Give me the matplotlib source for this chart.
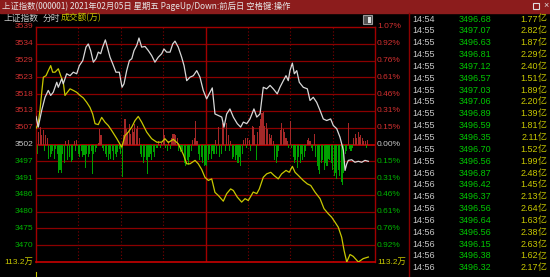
import matplotlib
matplotlib.use("Agg")
import matplotlib.pyplot as plt
from matplotlib.patches import Rectangle
from matplotlib.lines import Line2D
from matplotlib import transforms

plt.rcParams['font.family'] = ['Liberation Sans', 'Noto Sans CJK SC', 'DejaVu Sans']

PRE_CLOSE = 3501.86     # previous close, the zero line
STEP = 5.35             # one grid row (~0.153%)

left_labels = ["3539", "3534", "3529", "3523", "3518", "3513", "3507", "3502",
               "3497", "3491", "3486", "3480", "3475", "3470", "113.2万"]
right_labels = ["1.07%", "0.92%", "0.76%", "0.61%", "0.46%", "0.31%", "0.15%", "0.00%",
                "0.15%", "0.31%", "0.46%", "0.61%", "0.76%", "0.92%", "113.2万"]

# weighted index (white), minute of session vs points
white_min = [0, 1.6, 4, 6.4, 8.7, 10.4, 12.2, 14.7, 15.8, 18.2, 19.3, 21.7, 24.1, 26.4, 28.8,
             30.7, 33.1, 35.4, 37, 38.7, 40.6, 42.5, 44.1, 45.8, 47.2, 49.1, 50.5, 52.4, 54.3,
             56.6, 59, 60.9, 62.3, 64.2, 66.1, 67.8, 69.4, 71.3, 72.9, 74.8, 77.2, 79.5, 81.9,
             84.2, 86.6, 89, 90.6, 92.5, 94.9, 96.8, 98.4, 100.7, 103.1, 104.8, 106.7, 109,
             111.4, 113.8, 116.1, 118.4, 120.8, 123.2, 124.8, 126.7, 129.1, 131.5, 133.1, 135,
             137.3, 139.7, 142.5, 144.9, 146.8, 149.2, 151.5, 154.3, 156.3, 158.6, 160.9, 163.3,
             165.7, 168, 170.8, 172.7, 175.1, 177, 178.6, 179.8, 181.5, 182.9, 184.6, 186.4,
             189.2, 192.1, 194, 196.3, 198.7, 201.1, 203.4, 205.8, 208.6, 210.5, 212.9, 215.2,
             217.6, 218.8, 220, 221.1, 223.5, 225.8, 228.2, 230.6, 232.9, 235.3]
white_px = [3510.8, 3507.4, 3512.7, 3516.9, 3519.1, 3517.5, 3518.5, 3521.7, 3520.1, 3522.8,
            3521.2, 3524.4, 3523.8, 3524.9, 3524.4, 3527.0, 3528.6, 3532.9, 3533.9, 3531.8,
            3528.1, 3529.2, 3531.3, 3530.8, 3532.9, 3535.2, 3532.9, 3529.7, 3527.6, 3524.9,
            3524.9, 3520.1, 3521.2, 3525.4, 3528.6, 3529.2, 3531.8, 3533.4, 3535.8, 3532.9,
            3533.1, 3531.8, 3530.2, 3528.1, 3529.7, 3530.8, 3532.3, 3531.3, 3531.3, 3533.9,
            3534.8, 3532.9, 3529.7, 3527.0, 3522.2, 3523.3, 3523.8, 3525.4, 3523.3, 3519.1,
            3516.4, 3518.5, 3519.9, 3511.6, 3511.1, 3510.6, 3507.4, 3511.6, 3513.2, 3510.6,
            3508.5, 3507.4, 3509.0, 3508.5, 3510.0, 3513.2, 3510.6, 3511.6, 3520.1, 3519.6,
            3520.7, 3519.6, 3518.0, 3520.1, 3522.2, 3523.8, 3522.2, 3525.4, 3527.8, 3524.4,
            3525.4, 3521.7, 3520.1, 3519.6, 3515.9, 3516.9, 3515.3, 3512.7, 3510.0, 3509.5,
            3510.0, 3507.9, 3506.9, 3504.2, 3500.0, 3493.6, 3495.7, 3496.8, 3497.0, 3496.2,
            3496.5, 3496.2, 3496.8, 3496.5]

# leading indicator (yellow)
yellow_min = [0, 1.4, 2.8, 4.2, 5.2, 7.1, 8.7, 10.4, 11.8, 13.5, 15.8, 17.5, 19.3, 20.5, 22.2,
              24.1, 26.4, 28.8, 31.2, 33.5, 35.9, 38.2, 40.1, 41.8, 44.1, 46.5, 48.8, 51.2,
              53.6, 57.1, 60.7, 63, 65.3, 67.8, 70.1, 72.4, 74.8, 78.4, 81.9, 85.5, 89, 91.3,
              93.7, 97.2, 100.7, 104.3, 106.7, 109, 112.6, 114.9, 117.3, 119.6, 122, 124.4,
              126.7, 129.1, 132.6, 135, 137.8, 139.7, 142.5, 145.6, 148, 150.3, 153.8, 156.3,
              158.1, 160.9, 163.3, 166.2, 168.5, 171.5, 173.9, 177, 179.3, 181.5, 183.4, 185.7,
              189.2, 192.1, 194.5, 197.5, 201.1, 203.9, 206.9, 209.3, 211.7, 214, 216.4, 218.1,
              220, 222.3, 224.6, 228.2, 231.7, 235.3]
yellow_px = [3507.0, 3508.2, 3512.7, 3519.1, 3523.3, 3523.8, 3525.4, 3527.0, 3524.9, 3524.9,
             3526.0, 3523.8, 3521.7, 3517.5, 3518.5, 3519.6, 3519.1, 3518.5, 3517.5, 3516.7,
             3515.3, 3513.7, 3511.6, 3508.5, 3508.2, 3510.5, 3509.0, 3507.9, 3506.3, 3503.8,
             3501.0, 3504.7, 3505.8, 3507.4, 3509.5, 3510.8, 3509.0, 3505.8, 3503.7, 3502.6,
             3502.6, 3503.7, 3502.5, 3503.5, 3502.1, 3498.7, 3495.7, 3495.7, 3496.8, 3495.7,
             3493.9, 3491.4, 3490.4, 3490.9, 3486.6, 3485.6, 3483.8, 3486.2, 3487.7, 3487.2,
             3485.1, 3483.5, 3484.6, 3484.0, 3486.7, 3486.2, 3487.7, 3491.4, 3492.5, 3493.0,
             3492.0, 3490.9, 3492.5, 3493.6, 3493.0, 3494.9, 3493.0, 3492.0, 3490.4, 3489.3,
             3488.8, 3486.7, 3484.6, 3481.4, 3479.8, 3478.7, 3477.1, 3475.5, 3472.3, 3468.1,
             3464.4, 3466.8, 3466.2, 3464.4, 3465.5, 3466.0]

# red/green strength bars, points off the zero line, one per minute
force = [-5, -3, 4, 5.5, 3, 4.5, -2, 3, 2, -4.5,
         -4, -3, -2, -4.5, -1.5, -3, -9, -8, -9, -3,
         -6, 1, -5, 1.5, -4, -5.5, -5, 1, -2, 1.5,
         -3, -4, -2, -4, -3.5, -7.5, -3, -4, -3, -2,
         -9.5, -3, -2.5, -1, 0.5, 5, 3, -1, -2, -3,
         -4, -5, -3, -4.5, -2, -5, -3, -4, -2.5, -1.5,
         -3, -10.5, 3, 8, 5, 4, 6.5, 3.5, 5, 4,
         6.5, 5, 6, 2, -3, -4, -6, -4, -5, -9.5,
         -4, -3, -5, -2.5, -4, -1, -1, 1, -1, 0.5,
         5, 3, -1, -2, 1, -1.5, 2, 3.5, 3.5, 3,
         2, -2, -2.5, -1.5, -2, -6, -7, -5, -6.5, -4,
         -2, 1.5, 2, 7.5, 1, -3, -5, -4, -6, -7,
         -6.5, -7, -5, -3, -4.5, -2, -3, 1.5, -3, 5.5,
         -4, -3, 7, 6, -2, 7, 3, -2, 1, -4.5,
         -4, -5, -3.5, -6, -4, -7, -3, 1.5, 2, -1,
         2, 1.5, -2, 6, 5.5, 3, -5, 4, 6, 8,
         10, 10.5, 6, 7, 5, 3.5, 2, 3, 1, -5,
         -6, -4, -2, 4.5, 7, 5, 4, 2, 1, -1,
         7.5, -1, -4, -6, -5, -7.5, -4, -6, -3, -5,
         -4, -2, 1.5, 2, 1, -1, -2, 3.5, -4, -7,
         -8, -9.5, -6, -5, -8, -6, -7, -4.5, -5, -6,
         -8, -10, -9, -11, -8, -10, -12, -13, -9, -3,
         -2, 7, -1.5, -2, -1, 2, 3.5, 2, 4, 2.5,
         3, 2, 1, 1, -1, 1.5]

# tick list on the right
tick_time = ["14:54"] + ["14:55"] * 12 + ["14:56"] * 9
tick_price = ["3496.68", "3497.07", "3496.63", "3496.81", "3497.12", "3496.57", "3497.03",
              "3497.06", "3496.89", "3496.59", "3496.35", "3496.70", "3496.56", "3496.87",
              "3496.42", "3496.37", "3496.56", "3496.64", "3496.56", "3496.15", "3496.38",
              "3496.32"]
tick_amount = ["1.77", "2.82", "1.87", "2.29", "2.40", "1.51", "1.89", "2.20", "1.39", "1.81",
               "2.11", "1.52", "1.99", "2.48", "1.45", "2.13", "2.64", "1.63", "2.38", "2.63",
               "1.62", "2.17"]

RED_TXT = "#d23030"
GREEN_TXT = "#00b400"
GRAY_TXT = "#c8c8c8"
YEL_TXT = "#c8c800"
GRID = "#8a0000"
CJK = ["Noto Sans CJK SC", "DejaVu Sans"]

W, H = 550, 277
fig = plt.figure(figsize=(5.5, 2.77), dpi=100, facecolor="black")


def fx(x):
    return x / W


def fy(y):
    return 1 - y / H


# title bar
fig.patches.append(Rectangle((0, fy(12.5)), 1, 12.5 / H, transform=fig.transFigure,
                             color="#8c1c1c", zorder=0))
fig.text(fx(2), fy(6.5), "上证指数(000001) 2021年02月05日 星期五 PageUp/Down:前后日 空格键:操作",
         color="#e6e6e6", fontsize=6.0, va="center", ha="left", family=CJK)
fig.patches.append(Rectangle((fx(533), fy(8.5)), 6 / W, 6 / H, transform=fig.transFigure,
                             fill=False, ec="#e0e0e0", lw=0.8))
fig.text(fx(543), fy(6), "×", color="#e0e0e0", fontsize=6.5, va="center", ha="left")

# header row
fig.text(fx(3), fy(18), "上证指数", color=GRAY_TXT, fontsize=6.3, va="center", family=CJK)
fig.text(fx(43), fy(18), "分时", color=GRAY_TXT, fontsize=6.3, va="center", family=CJK)
fig.text(fx(61), fy(18), "成交额(万)", color=YEL_TXT, fontsize=6.3, va="center", family=CJK)
fig.patches.append(Rectangle((fx(363), fy(24)), 9 / W, 9 / H, transform=fig.transFigure,
                             fc="#505050", ec="#9a9a9a", lw=0.8))
fig.patches.append(Rectangle((fx(368), fy(22.5)), 2.5 / W, 6 / H, transform=fig.transFigure,
                             fc="#e0e0e0", ec="none"))

# main intraday panel
ax = fig.add_axes([fx(36), fy(262), (375 - 36) / W, (262 - 27) / H], facecolor="black")
ax.set_xlim(0, 240)
ax.set_ylim(PRE_CLOSE - 7 * STEP, PRE_CLOSE + 7 * STEP)
ax.set_xticks([])
ax.set_yticks([])
for side in ["left", "right", "top"]:
    ax.spines[side].set_color("#a00000")
    ax.spines[side].set_linewidth(1.0)
ax.spines["bottom"].set_color("#c80000")
ax.spines["bottom"].set_linewidth(1.2)

for k in range(-6, 7):
    if k == 0:
        ax.axhline(PRE_CLOSE, color="#c80000", lw=1.2, zorder=1)
    else:
        ax.axhline(PRE_CLOSE + k * STEP, color=GRID, lw=0.9, zorder=1)
for m in [30, 60, 90, 150, 180, 210]:
    ax.axvline(m, color="#800000", lw=0.8, ls=(0, (1, 2)), zorder=1)
ax.axvline(120, color="#a00000", lw=1.0, zorder=1)

bar_colors = ["#a52828" if v > 0 else "#00a000" for v in force]
ax.bar(range(len(force)), force, bottom=PRE_CLOSE, width=0.75, color=bar_colors,
       linewidth=0, zorder=2)
ax.plot(yellow_min, yellow_px, color="#c8c800", lw=0.9, zorder=3)
ax.plot(white_min, white_px, color="#d8d8d8", lw=0.9, zorder=4)

# axis labels, left and right
tr = transforms.blended_transform_factory(fig.transFigure, ax.transData)
for i, (la, ra) in enumerate(zip(left_labels, right_labels)):
    k = 7 - i
    y = PRE_CLOSE + k * STEP
    if k > 0:
        c = RED_TXT
    elif k == 0:
        c = GRAY_TXT
    elif k > -7:
        c = GREEN_TXT
    else:
        c = YEL_TXT
    ax.text(fx(33), y, la, color=c, fontsize=6, ha="right", va="center", transform=tr,
            clip_on=False)
    ax.text(fx(377), y, ra, color=c, fontsize=6, ha="left", va="center", transform=tr,
            clip_on=False)

fig.add_artist(Line2D([fx(36), fx(36)], [fy(272), fy(277)], color=YEL_TXT, lw=0.8))
fig.add_artist(Line2D([fx(408.5), fx(408.5)], [fy(12.5), fy(277)], color="#8a0000", lw=1.0))

# right tick list
for i in range(len(tick_time)):
    y = fy(19 + 11.85 * i)
    fig.text(fx(412), y, tick_time[i], color=GRAY_TXT, fontsize=6.5, va="center", ha="left")
    fig.text(fx(491), y, tick_price[i], color="#00c800", fontsize=6.5, va="center", ha="right")
    fig.text(fx(538), y, tick_amount[i], color=YEL_TXT, fontsize=6.5, va="center", ha="right")
    fig.text(fx(538), y, "亿", color=YEL_TXT, fontsize=6.5, va="center", ha="left", family=CJK)

fig.savefig("out.png", dpi=100, facecolor="black")
